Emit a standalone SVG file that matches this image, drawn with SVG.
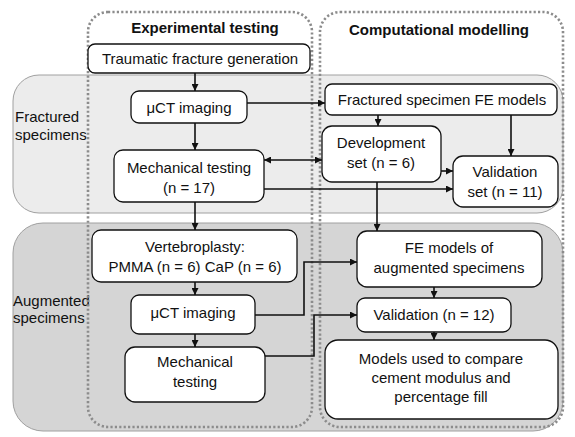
<svg xmlns="http://www.w3.org/2000/svg" width="575" height="437" viewBox="0 0 575 437">
<style>
text{font-family:"Liberation Sans",Arial,sans-serif;font-size:15px;fill:#111;}
.t{text-anchor:middle;}
.b{font-weight:bold;}
.node rect{fill:#fff;stroke:#111;stroke-width:1.3;}
.frame{fill:none;stroke:#8c8c8c;stroke-width:2.6;stroke-dasharray:2.2 2.2;}
.conn path{fill:none;stroke:#111;stroke-width:1.6;}
</style>
<defs>
<marker id="ah" viewBox="0 0 10 10" refX="10" refY="5" markerWidth="9" markerHeight="7" markerUnits="userSpaceOnUse" orient="auto-start-reverse">
<path d="M0,0 L10,5 L0,10 Z" fill="#111"/>
</marker>
</defs>
<rect width="575" height="437" fill="#fff"/>
<g id="panel-fractured">
<rect x="13" y="75" width="550" height="138" rx="26" fill="#ececec" stroke="#a0a0a0" stroke-width="1"/>
<text x="15" y="122">Fractured</text>
<text x="15" y="140">specimens</text>
</g>
<g id="panel-augmented">
<rect x="13" y="223" width="550" height="208" rx="30" fill="#d5d5d5" stroke="#a0a0a0" stroke-width="1"/>
<text x="13" y="306">Augmented</text>
<text x="13" y="323">specimens</text>
</g>
<g id="frame-experimental">
<rect class="frame" x="88" y="12" width="224" height="415" rx="20"/>
<text class="t b" x="205" y="33">Experimental testing</text>
</g>
<g id="frame-computational">
<rect class="frame" x="320" y="12" width="243" height="415" rx="20"/>
<text class="t b" x="439" y="35">Computational modelling</text>
</g>
<g id="connectors" class="conn">
<path d="M195,73 V91" marker-end="url(#ah)"/>
<path d="M195,123 V150" marker-end="url(#ah)"/>
<path d="M247,103 H325" marker-end="url(#ah)"/>
<path d="M264,160 H322" marker-start="url(#ah)" marker-end="url(#ah)"/>
<path d="M264,189 H453" marker-end="url(#ah)"/>
<path d="M441,171 H453" marker-end="url(#ah)"/>
<path d="M378,115 V126" marker-end="url(#ah)"/>
<path d="M511,115 V156" marker-end="url(#ah)"/>
<path d="M377,182 V231" marker-end="url(#ah)"/>
<path d="M195,202 V230" marker-end="url(#ah)"/>
<path d="M195,282 V295" marker-end="url(#ah)"/>
<path d="M195,334 V347" marker-end="url(#ah)"/>
<path d="M255,315 H304 V262 H357" marker-end="url(#ah)"/>
<path d="M265,356 H314 V315 H357" marker-end="url(#ah)"/>
<path d="M434,287 V298" marker-end="url(#ah)"/>
<path d="M434,332 V340" marker-end="url(#ah)"/>
</g>
<g id="n-traumatic" class="node">
<rect x="88" y="44" width="222" height="29" rx="7"/>
<text class="t" x="200" y="64">Traumatic fracture generation</text>
</g>
<g id="n-uct1" class="node">
<rect x="131" y="91" width="116" height="32" rx="8"/>
<text class="t" x="189" y="113">μCT imaging</text>
</g>
<g id="n-mech1" class="node">
<rect x="114" y="150" width="150" height="52" rx="9"/>
<text class="t" x="189" y="173">Mechanical testing</text>
<text class="t" x="189" y="193">(n = 17)</text>
</g>
<g id="n-fe-fractured" class="node">
<rect x="325" y="84" width="232" height="31" rx="7"/>
<text class="t" x="442" y="105">Fractured specimen FE models</text>
</g>
<g id="n-development" class="node">
<rect x="322" y="126" width="119" height="56" rx="10"/>
<text class="t" x="381" y="148">Development</text>
<text class="t" x="381" y="168">set (n = 6)</text>
</g>
<g id="n-validation-set" class="node">
<rect x="453" y="156" width="105" height="51" rx="10"/>
<text class="t" x="505" y="177">Validation</text>
<text class="t" x="505" y="197">set (n = 11)</text>
</g>
<g id="n-vertebroplasty" class="node">
<rect x="92" y="230" width="205" height="52" rx="9"/>
<text class="t" x="195" y="252">Vertebroplasty:</text>
<text class="t" x="195" y="272">PMMA (n = 6) CaP (n = 6)</text>
</g>
<g id="n-uct2" class="node">
<rect x="131" y="295" width="124" height="39" rx="8"/>
<text class="t" x="193" y="318">μCT imaging</text>
</g>
<g id="n-mech2" class="node">
<rect x="125" y="347" width="140" height="55" rx="10"/>
<text class="t" x="195" y="367">Mechanical</text>
<text class="t" x="195" y="387">testing</text>
</g>
<g id="n-fe-augmented" class="node">
<rect x="357" y="231" width="185" height="56" rx="10"/>
<text class="t" x="449" y="253">FE models of</text>
<text class="t" x="449" y="273">augmented specimens</text>
</g>
<g id="n-validation12" class="node">
<rect x="357" y="298" width="154" height="34" rx="8"/>
<text class="t" x="434" y="320">Validation (n = 12)</text>
</g>
<g id="n-models" class="node">
<rect x="325" y="340" width="233" height="79" rx="13"/>
<text class="t" x="441" y="364">Models used to compare</text>
<text class="t" x="441" y="383">cement modulus and</text>
<text class="t" x="441" y="402">percentage fill</text>
</g>
</svg>
